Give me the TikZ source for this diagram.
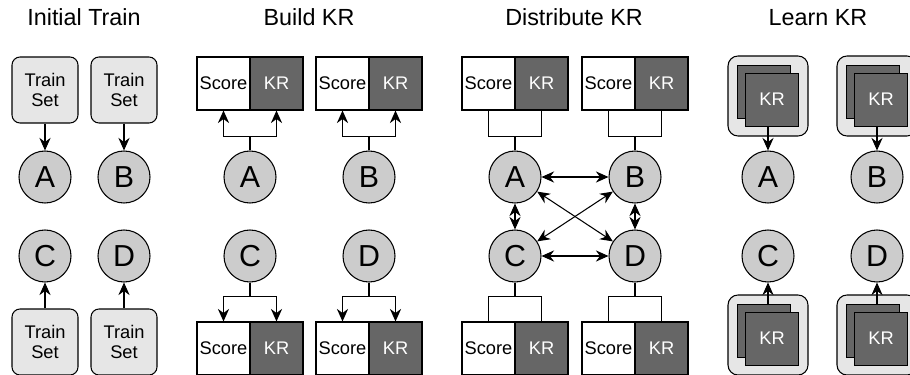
\documentclass[tikz,border=0pt]{standalone}
\usepackage{fontspec}
\setmainfont{Liberation Sans}
\usetikzlibrary{arrows.meta}

\definecolor{boxgray}{HTML}{E6E6E6}
\definecolor{nodegray}{HTML}{CCCCCC}
\definecolor{krgray}{HTML}{666666}

\begin{document}
\begin{tikzpicture}[
    line width=0.75pt,
    onetip/.style={-{Stealth[length=9pt,width=8pt,inset=3pt]}},
    twotips/.style={{Stealth[length=9pt,width=8pt,inset=3pt]}-{Stealth[length=9pt,width=8pt,inset=3pt]}},
    title/.style={font=\fontsize{16.6}{19}\selectfont},
    agent/.style={circle,draw,fill=nodegray,minimum size=1.3cm,inner sep=0pt,font=\fontsize{21.6}{24}\selectfont},
    trainset/.style={draw,rounded corners=0.2cm,fill=boxgray,minimum size=1.65cm,inner sep=0pt,align=center,font=\fontsize{13}{14.5}\selectfont},
    score/.style={draw,fill=white,minimum size=1.325cm,inner sep=0pt,font=\fontsize{13}{14.5}\selectfont},
    kr/.style={draw,fill=krgray,text=white,minimum size=1.325cm,inner sep=0pt,font=\fontsize{13}{14.5}\selectfont},
    krgroup/.style={draw,rounded corners=0.25cm,fill=boxgray,minimum size=2cm},
  ]
  \useasboundingbox (0,0) rectangle (22.75,9.35);

  % titles
  \node[title] (t1) at (2.1, 8.91) {Initial Train};
  \node[title] (t2) at (7.725, 8.91) {Build KR};
  \node[title] (t3) at (14.35, 8.91) {Distribute KR};
  \node[title] (t4) at (20.45, 8.91) {Learn KR};

  % initial train
  \node[trainset] (ta1) at (1.125, 7.1) {Train\\Set};
  \node[trainset] (tb1) at (3.1, 7.1) {Train\\Set};
  \node[agent] (a1) at (1.125, 4.925) {A};
  \node[agent] (b1) at (3.1, 4.925) {B};
  \node[agent] (c1) at (1.125, 2.95) {C};
  \node[agent] (d1) at (3.1, 2.95) {D};
  \node[trainset] (tc1) at (1.125, 0.8) {Train\\Set};
  \node[trainset] (td1) at (3.1, 0.8) {Train\\Set};

  \begin{scope}[onetip]
    \draw (ta1) -- (a1);
    \draw (tb1) -- (b1);
    \draw (tc1) -- (c1);
    \draw (td1) -- (d1);
  \end{scope}

  % build KR
  \node[score] (sa2) at (5.5875, 7.2625) {Score};
  \node[kr] (ka2) at (6.9125, 7.2625) {KR};
  \node[score] (sb2) at (8.5625, 7.2625) {Score};
  \node[kr] (kb2) at (9.8875, 7.2625) {KR};
  \node[agent] (a2) at (6.25, 4.925) {A};
  \node[agent] (b2) at (9.225, 4.925) {B};
  \node[agent] (c2) at (6.25, 2.95) {C};
  \node[agent] (d2) at (9.225, 2.95) {D};
  \node[score] (sc2) at (5.5875, 0.6375) {Score};
  \node[kr] (kc2) at (6.9125, 0.6375) {KR};
  \node[score] (sd2) at (8.5625, 0.6375) {Score};
  \node[kr] (kd2) at (9.8875, 0.6375) {KR};

  \begin{scope}[onetip]
    \draw (a2.north) -- ++(0,0.35) -| (sa2);
    \draw (a2.north) -- ++(0,0.35) -| (ka2);
    \draw (b2.north) -- ++(0,0.35) -| (sb2);
    \draw (b2.north) -- ++(0,0.35) -| (kb2);
    \draw (c2.south) -- ++(0,-0.35) -| (sc2);
    \draw (c2.south) -- ++(0,-0.35) -| (kc2);
    \draw (d2.south) -- ++(0,-0.35) -| (sd2);
    \draw (d2.south) -- ++(0,-0.35) -| (kd2);
  \end{scope}

  % distribute KR
  \node[score] (sa3) at (12.2125, 7.2625) {Score};
  \node[kr] (ka3) at (13.5375, 7.2625) {KR};
  \node[score] (sb3) at (15.2125, 7.2625) {Score};
  \node[kr] (kb3) at (16.5375, 7.2625) {KR};
  \node[agent] (a3) at (12.875, 4.925) {A};
  \node[agent] (b3) at (15.875, 4.925) {B};
  \node[agent] (c3) at (12.875, 2.95) {C};
  \node[agent] (d3) at (15.875, 2.95) {D};
  \node[score] (sc3) at (12.2125, 0.6375) {Score};
  \node[kr] (kc3) at (13.5375, 0.6375) {KR};
  \node[score] (sd3) at (15.2125, 0.6375) {Score};
  \node[kr] (kd3) at (16.5375, 0.6375) {KR};

  \draw (a3.north) -- ++(0,0.35) -| (sa3) (a3.north) ++(0,0.35) -| (ka3);
  \draw (b3.north) -- ++(0,0.35) -| (sb3) (b3.north) ++(0,0.35) -| (kb3);
  \draw (c3.south) -- ++(0,-0.35) -| (sc3) (c3.south) ++(0,-0.35) -| (kc3);
  \draw (d3.south) -- ++(0,-0.35) -| (sd3) (d3.south) ++(0,-0.35) -| (kd3);

  \begin{scope}[twotips]
    \draw (a3) -- (b3);
    \draw (c3) -- (d3);
    \draw (a3) -- (c3);
    \draw (b3) -- (d3);
    \draw (a3) -- (d3);
    \draw (b3) -- (c3);
  \end{scope}

  % learn KR
  \node[krgroup] (ga4) at (19.2, 6.95) {};
  \node[kr] (ra4) at (19.1, 7.05) {};
  \node[kr] (fa4) at (19.3, 6.86) {KR};
  \node[krgroup] (gb4) at (21.925, 6.95) {};
  \node[kr] (rb4) at (21.825, 7.05) {};
  \node[kr] (fb4) at (22.025, 6.86) {KR};
  \node[agent] (a4) at (19.2, 4.925) {A};
  \node[agent] (b4) at (21.925, 4.925) {B};
  \node[agent] (c4) at (19.2, 2.95) {C};
  \node[agent] (d4) at (21.925, 2.95) {D};
  \node[krgroup] (gc4) at (19.2, 0.975) {};
  \node[kr] (rc4) at (19.1, 1.075) {};
  \node[kr] (fc4) at (19.3, 0.885) {KR};
  \node[krgroup] (gd4) at (21.925, 0.975) {};
  \node[kr] (rd4) at (21.825, 1.075) {};
  \node[kr] (fd4) at (22.025, 0.885) {KR};

  \begin{scope}[onetip]
    \draw (fa4.south -| a4) -- (a4);
    \draw (fb4.south -| b4) -- (b4);
    \draw (rc4.north -| c4) -- (c4);
    \draw (rd4.north -| d4) -- (d4);
  \end{scope}

\end{tikzpicture}
\end{document}
